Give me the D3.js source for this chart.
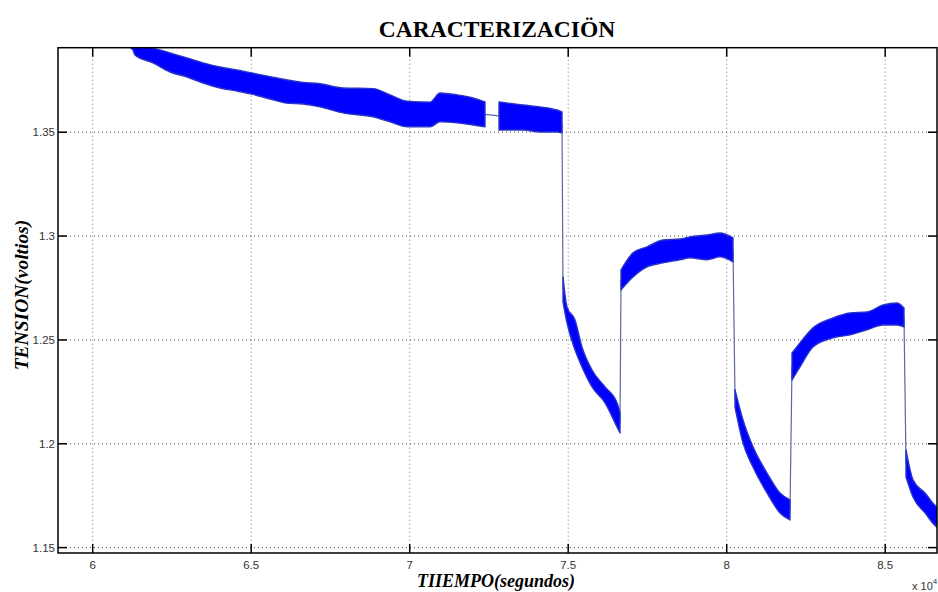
<!DOCTYPE html>
<html>
<head>
<meta charset="utf-8">
<script src="https://cdn.jsdelivr.net/npm/d3@7"></script>
<style>
  body { margin: 0; background: #fff; }
  svg { display: block; }
</style>
</head>
<body>
<svg id="chart" width="938" height="592"></svg>
<script>
// Labels
const chartTitle = "CARACTERIZACIÖN";
const xTitle = "TIIEMPO(segundos)";
const yTitle = "TENSION(voltios)";

// Axis ticks (time in seconds, shown in units of 10^4)
const xTicks = [60000, 65000, 70000, 75000, 80000, 85000];
const yTicks = [1.15, 1.2, 1.25, 1.3, 1.35];

// Measured voltage: time, upper and lower edge of the noisy trace, and run index
const timeS = [
  60861, 61271, 61334, 61902, 62438, 62975, 63480, 64016, 64552, 65057, 65593, 66129,
  66634, 67170, 67896, 68842, 69379, 69915, 70640, 70956, 71492, 71997, 72375,
  72817, 73574, 74110, 74647, 74804,
  74836, 74962, 75215, 75435, 75751, 76161, 76540, 76634,
  76666, 77044, 77486, 77991, 78527, 78842, 79378, 79788, 80199,
  80262, 80514, 80830, 81271, 81681, 81997,
  82060, 82312, 82722, 83353, 83889, 84426, 84930, 85372, 85593,
  85656, 85877, 86256, 86634, 86750
];
const upperV = [
  1.3990, 1.3945, 1.3935, 1.3906, 1.3882, 1.3858, 1.3834, 1.3814, 1.3800, 1.3784, 1.3768, 1.3752,
  1.3740, 1.3734, 1.3713, 1.3710, 1.3680, 1.3650, 1.3645, 1.3689, 1.3680, 1.3665, 1.3646,
  1.3646, 1.3631, 1.3622, 1.3607, 1.3598,
  1.2803, 1.2659, 1.2596, 1.2466, 1.2355, 1.2274, 1.2197, 1.2150,
  1.2837, 1.2919, 1.2948, 1.2981, 1.2986, 1.2996, 1.3005, 1.3015, 1.2991,
  1.2260, 1.2115, 1.1985, 1.1859, 1.1763, 1.1730,
  1.2437, 1.2486, 1.2558, 1.2606, 1.2630, 1.2635, 1.2668, 1.2678, 1.2654,
  1.1970, 1.1826, 1.1763, 1.1696, 1.1690
];
const lowerV = [
  1.3935, 1.3896, 1.3872, 1.3834, 1.3790, 1.3766, 1.3737, 1.3713, 1.3698, 1.3682, 1.3660, 1.3640,
  1.3636, 1.3622, 1.3593, 1.3574, 1.3550, 1.3526, 1.3526, 1.3550, 1.3545, 1.3535, 1.3526,
  1.3511, 1.3511, 1.3501, 1.3501, 1.3497,
  1.2683, 1.2582, 1.2452, 1.2370, 1.2274, 1.2197, 1.2081, 1.2052,
  1.2741, 1.2803, 1.2852, 1.2871, 1.2886, 1.2895, 1.2886, 1.2900, 1.2876,
  1.2177, 1.2004, 1.1888, 1.1763, 1.1667, 1.1633,
  1.2307, 1.2370, 1.2466, 1.2510, 1.2524, 1.2549, 1.2572, 1.2572, 1.2563,
  1.1840, 1.1744, 1.1667, 1.1600, 1.1595
];
const run = [
  0, 0, 0, 0, 0, 0, 0, 0, 0, 0, 0, 0,
  0, 0, 0, 0, 0, 0, 0, 0, 0, 0, 0,
  1, 1, 1, 1, 1,
  2, 2, 2, 2, 2, 2, 2, 2,
  3, 3, 3, 3, 3, 3, 3, 3, 3,
  4, 4, 4, 4, 4, 4,
  5, 5, 5, 5, 5, 5, 5, 5, 5,
  6, 6, 6, 6, 6
];

const svg = d3.select("#chart");
const plot = { left: 58, top: 47.7, right: 937, bottom: 553 };

const x = d3.scaleLinear().domain([58905, 86634]).range([plot.left, plot.right]);
const y = d3.scaleLinear().domain([1.1474, 1.3907]).range([plot.bottom, plot.top]);

const points = timeS.map((t, i) => ({ t, hi: upperV[i], lo: lowerV[i], run: run[i] }));
const runs = Array.from(d3.group(points, d => d.run).values());

svg.append("defs").append("clipPath").attr("id", "plotClip")
  .append("rect")
  .attr("x", plot.left).attr("y", plot.top)
  .attr("width", plot.right - plot.left).attr("height", plot.bottom - plot.top);

// Dotted grid
const grid = svg.append("g");
grid.selectAll("line.gx").data(xTicks).join("line")
  .attr("x1", d => x(d)).attr("x2", d => x(d))
  .attr("y1", plot.top).attr("y2", plot.bottom)
  .attr("stroke", "#777").attr("stroke-width", 1).attr("stroke-dasharray", "1,3");
grid.selectAll("line.gy").data(yTicks).join("line")
  .attr("x1", plot.left).attr("x2", plot.right)
  .attr("y1", d => y(d)).attr("y2", d => y(d))
  .attr("stroke", "#444").attr("stroke-width", 1).attr("stroke-dasharray", "1,3");

// Signal
const traces = svg.append("g").attr("clip-path", "url(#plotClip)");

// thin connectors where the trace jumps between runs
const joins = [];
for (let i = 0; i < runs.length - 1; i++) {
  const a = runs[i][runs[i].length - 1], b = runs[i + 1][0];
  joins.push([a, b]);
}
traces.selectAll("path.join").data(joins).join("path")
  .attr("d", d => d3.line().x(p => x(p.t)).y(p => y((p.hi + p.lo) / 2))(d))
  .attr("fill", "none").attr("stroke", "#5a67a8").attr("stroke-width", 1.2);

const band = d3.area().curve(d3.curveMonotoneX)
  .x(d => x(d.t)).y0(d => y(d.lo)).y1(d => y(d.hi));
traces.selectAll("path.band").data(runs).join("path")
  .attr("d", band)
  .attr("fill", "#0000ff")
  .attr("stroke", "#2a35c8").attr("stroke-width", 1.4).attr("stroke-linejoin", "round");

// Axes box and inward ticks
const axes = svg.append("g").attr("stroke", "#000");
axes.append("rect")
  .attr("x", plot.left).attr("y", plot.top)
  .attr("width", plot.right - plot.left).attr("height", plot.bottom - plot.top)
  .attr("fill", "none").attr("stroke-width", 1.5);
const tl = 9;
xTicks.forEach(t => {
  axes.append("line").attr("x1", x(t)).attr("x2", x(t)).attr("y1", plot.bottom).attr("y2", plot.bottom - tl).attr("stroke-width", 1.5);
  axes.append("line").attr("x1", x(t)).attr("x2", x(t)).attr("y1", plot.top).attr("y2", plot.top + tl).attr("stroke-width", 1.5);
});
yTicks.forEach(v => {
  axes.append("line").attr("x1", plot.left).attr("x2", plot.left + tl).attr("y1", y(v)).attr("y2", y(v)).attr("stroke-width", 1.5);
  axes.append("line").attr("x1", plot.right).attr("x2", plot.right - tl).attr("y1", y(v)).attr("y2", y(v)).attr("stroke-width", 1.5);
});

// Tick labels
const tickFont = "'Liberation Sans', Arial, sans-serif";
svg.append("g").selectAll("text").data(xTicks).join("text")
  .attr("x", d => x(d)).attr("y", 569)
  .attr("text-anchor", "middle")
  .attr("font-family", tickFont).attr("font-size", 11.5).attr("fill", "#333")
  .text(d => d3.format("~g")(d / 1e4));
svg.append("g").selectAll("text").data(yTicks).join("text")
  .attr("x", plot.left - 3).attr("y", d => y(d)).attr("dy", "0.35em")
  .attr("text-anchor", "end")
  .attr("font-family", tickFont).attr("font-size", 11.5).attr("fill", "#333")
  .text(d => d3.format("~g")(d));

// Exponent note
const expo = svg.append("text").attr("x", 912).attr("y", 590)
  .attr("font-family", tickFont).attr("font-size", 11).attr("fill", "#333");
expo.append("tspan").text("x 10");
expo.append("tspan").attr("dy", -6).attr("font-size", 8).text("4");

// Titles
const serif = "'Liberation Serif', 'Times New Roman', serif";
svg.append("text").attr("x", 497).attr("y", 37)
  .attr("text-anchor", "middle").attr("font-family", serif)
  .attr("font-weight", "bold").attr("font-size", 23.5).attr("fill", "#000")
  .text(chartTitle);
svg.append("text").attr("x", 496).attr("y", 587)
  .attr("text-anchor", "middle").attr("font-family", serif)
  .attr("font-weight", "bold").attr("font-style", "italic").attr("font-size", 18).attr("fill", "#000")
  .text(xTitle);
svg.append("text")
  .attr("transform", "translate(28,295) rotate(-90)")
  .attr("text-anchor", "middle").attr("font-family", serif)
  .attr("font-weight", "bold").attr("font-style", "italic").attr("font-size", 19.5).attr("fill", "#000")
  .text(yTitle);
</script>
</body>
</html>
